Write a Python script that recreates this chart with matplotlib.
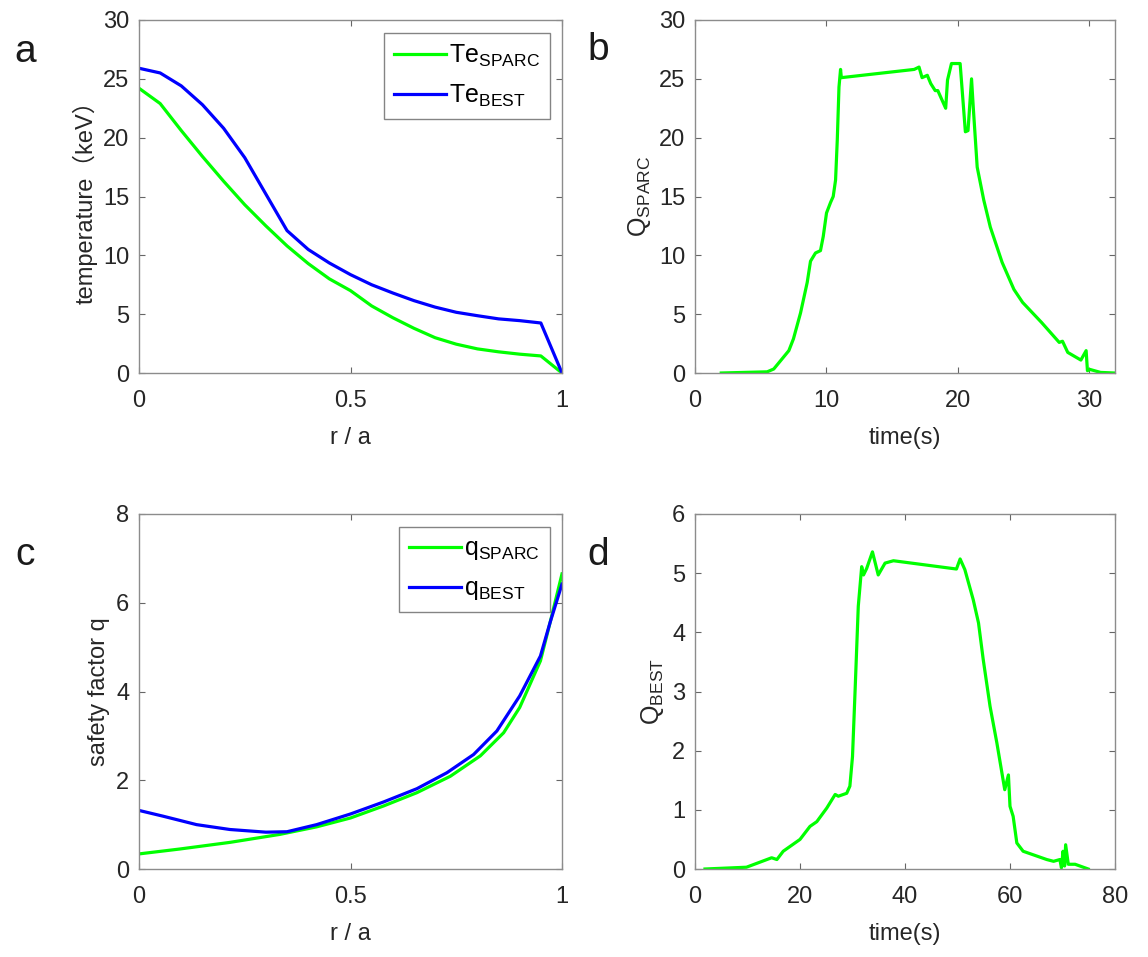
import matplotlib
matplotlib.use('Agg')
import matplotlib.pyplot as plt

plt.rcParams['font.family'] = ['Liberation Sans', 'Noto Sans CJK SC', 'DejaVu Sans']
plt.rcParams['font.size'] = 17
plt.rcParams['mathtext.fontset'] = 'custom'
plt.rcParams['mathtext.rm'] = 'Liberation Sans'
plt.rcParams['mathtext.it'] = 'Liberation Sans'

# panel a: electron temperature profiles
r_te = [0, 0.05, 0.1, 0.15, 0.2, 0.25, 0.3, 0.35, 0.4, 0.45, 0.5,
        0.55, 0.6, 0.65, 0.7, 0.75, 0.8, 0.85, 0.9, 0.95, 1.0]
te_sparc = [24.2, 22.9, 20.6, 18.4, 16.3, 14.3, 12.5, 10.8, 9.3, 8.0, 7.0,
            5.7, 4.7, 3.8, 3.0, 2.45, 2.05, 1.8, 1.6, 1.45, 0.0]
te_best = [25.9, 25.5, 24.4, 22.8, 20.8, 18.3, 15.2, 12.1, 10.5, 9.35, 8.36,
           7.5, 6.8, 6.15, 5.6, 5.16, 4.87, 4.6, 4.45, 4.25, 0.0]

# panel b: Q of SPARC vs time
t_sparc = [2.0, 5.5, 6.0, 7.15, 7.5, 8.04, 8.55, 8.8, 9.18, 9.56, 9.77, 10.02,
           10.33, 10.53, 10.71, 10.84, 10.97, 11.09, 11.15, 16.7, 17.07, 17.3,
           17.7, 17.96, 18.3, 18.5, 19.1, 19.24, 19.54, 20.2, 20.4, 20.6, 20.8,
           21.07, 21.2, 21.5, 22.0, 22.5, 23.4, 24.3, 24.96, 26.4, 27.75, 28.0,
           28.4, 29.4, 29.8, 29.9, 30.1, 30.9, 31.95]
q_sparc_t = [0.0, 0.1, 0.34, 1.9, 2.9, 5.1, 7.7, 9.5, 10.2, 10.4, 11.6, 13.6,
             14.5, 15.0, 16.4, 19.8, 24.3, 25.8, 25.1, 25.8, 26.0, 25.1,
             25.3, 24.6, 24.0, 24.0, 22.5, 24.9, 26.3, 26.3, 23.4, 20.5, 20.6,
             25.0, 22.6, 17.5, 14.7, 12.4, 9.4, 7.1, 6.0, 4.3, 2.6, 2.7,
             1.75, 1.1, 1.9, 0.2, 0.3, 0.05, 0.0]

# panel c: safety factor profiles
r_q_sparc = [0, 0.096, 0.215, 0.333, 0.42, 0.5, 0.578, 0.657, 0.736, 0.807,
             0.862, 0.9, 0.949, 0.972, 1.0]
q_sparc = [0.34, 0.45, 0.60, 0.78, 0.95, 1.15, 1.42, 1.72, 2.09, 2.55,
           3.07, 3.64, 4.69, 5.56, 6.65]
r_q_best = [0, 0.057, 0.136, 0.215, 0.30, 0.35, 0.42, 0.5, 0.578, 0.657,
            0.728, 0.791, 0.846, 0.9, 0.949, 0.972, 1.0]
q_best = [1.32, 1.19, 1.0, 0.89, 0.83, 0.84, 1.0, 1.24, 1.51, 1.81,
          2.17, 2.58, 3.11, 3.9, 4.8, 5.56, 6.42]

# panel d: Q of BEST vs time
t_best = [1.9, 9.8, 14.6, 15.6, 16.8, 20.0, 21.9, 23.2, 25.1, 26.7, 27.3, 28.9,
          29.5, 30.0, 30.5, 31.1, 31.75, 32.1, 32.7, 33.8, 34.9, 36.2, 37.8,
          49.8, 50.5, 51.4, 53.0, 54.0, 54.9, 56.2, 57.5, 59.0, 59.7, 60.0,
          60.6, 61.3, 62.5, 67.0, 68.3, 69.5, 69.8, 70.1, 70.4, 70.6, 71.1,
          72.4, 74.9]
q_best_t = [0.0, 0.03, 0.19, 0.16, 0.3, 0.5, 0.72, 0.8, 1.03, 1.26, 1.23, 1.28,
            1.4, 1.9, 3.03, 4.44, 5.11, 4.97, 5.08, 5.36, 4.97, 5.17, 5.21,
            5.07, 5.24, 5.06, 4.55, 4.16, 3.54, 2.75, 2.13, 1.34, 1.59, 1.06,
            0.89, 0.44, 0.3, 0.16, 0.13, 0.16, 0.02, 0.3, 0.05, 0.41, 0.08,
            0.08, 0.0]

GREEN = '#00ff00'
BLUE = '#0000ff'
LW = 2.3

fig = plt.figure(figsize=(11.48, 9.57), dpi=100)
W, H = 1148, 957


def make_ax(l, r, t, b):
    ax = fig.add_axes([l / W, 1 - b / H, (r - l) / W, (b - t) / H])
    for s in ax.spines.values():
        s.set_color('0.55')
        s.set_linewidth(1.0)
    ax.tick_params(direction='in', top=True, right=True, length=4,
                   color='0.4', labelcolor='0.15')
    ax.tick_params(axis='x', pad=12)
    ax.tick_params(axis='y', pad=7)
    return ax


ax_a = make_ax(139, 562, 20, 373)
ax_b = make_ax(695, 1115, 20, 373)
ax_c = make_ax(139, 562, 514, 869)
ax_d = make_ax(695, 1115, 514, 869)

ax_a.plot(r_te, te_sparc, color=GREEN, lw=LW, label=r'Te$_{\mathrm{SPARC}}$')
ax_a.plot(r_te, te_best, color=BLUE, lw=LW, label=r'Te$_{\mathrm{BEST}}$')
ax_a.set_xlim(0, 1)
ax_a.set_ylim(0, 30)
ax_a.set_xticks([0, 0.5, 1])
ax_a.set_xticklabels(['0', '0.5', '1'])
ax_a.set_yticks(range(0, 31, 5))
ax_a.set_xlabel('r / a', color='0.15', labelpad=11)
ax_a.set_ylabel('temperature（keV）', color='0.15')

ax_b.plot(t_sparc, q_sparc_t, color=GREEN, lw=LW)
ax_b.set_xlim(0, 32)
ax_b.set_ylim(0, 30)
ax_b.set_xticks([0, 10, 20, 30])
ax_b.set_yticks(range(0, 31, 5))
ax_b.set_xlabel('time(s)', color='0.15', labelpad=11)
ax_b.set_ylabel(r'Q$_{\mathrm{SPARC}}$', color='0.15', fontsize=18)

ax_c.plot(r_q_sparc, q_sparc, color=GREEN, lw=LW, label=r'q$_{\mathrm{SPARC}}$')
ax_c.plot(r_q_best, q_best, color=BLUE, lw=LW, label=r'q$_{\mathrm{BEST}}$')
ax_c.set_xlim(0, 1)
ax_c.set_ylim(0, 8)
ax_c.set_xticks([0, 0.5, 1])
ax_c.set_xticklabels(['0', '0.5', '1'])
ax_c.set_yticks(range(0, 9, 2))
ax_c.set_xlabel('r / a', color='0.15', labelpad=11)
ax_c.set_ylabel('safety factor q', color='0.15')

ax_d.plot(t_best, q_best_t, color=GREEN, lw=LW)
ax_d.set_xlim(0, 80)
ax_d.set_ylim(0, 6)
ax_d.set_xticks(range(0, 81, 20))
ax_d.set_yticks(range(0, 7))
ax_d.set_xlabel('time(s)', color='0.15', labelpad=11)
ax_d.set_ylabel(r'Q$_{\mathrm{BEST}}$', color='0.15', fontsize=18)

for ax in (ax_a, ax_c):
    leg = ax.legend(loc='upper right', fancybox=False, fontsize=18,
                    handlelength=2.1, borderaxespad=0.5, labelspacing=0.55,
                    handletextpad=0.1, borderpad=0.4)
    leg.get_frame().set_edgecolor('0.4')
    leg.get_frame().set_linewidth(1.0)

for txt, x, y in [('a', 25, 52), ('b', 598, 50), ('c', 25, 555), ('d', 598, 555)]:
    fig.text(x / W, 1 - y / H, txt, fontsize=28, ha='center', va='center',
             color='0.1')

fig.savefig('out.png', dpi=100)
